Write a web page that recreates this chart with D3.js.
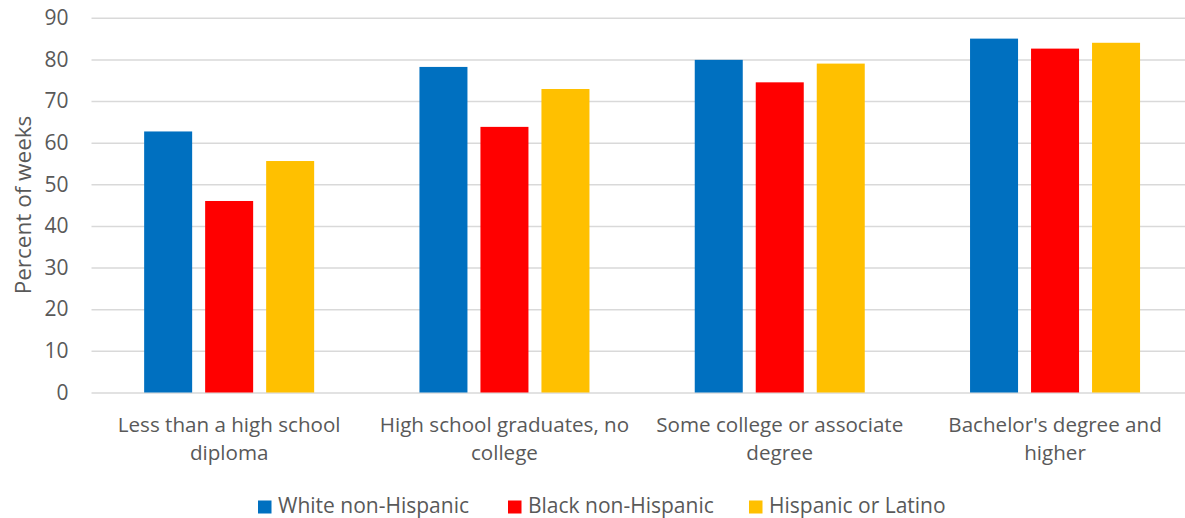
<!DOCTYPE html>
<html>
<head>
<meta charset="utf-8">
<script src="https://cdn.jsdelivr.net/npm/d3@7"></script>
<style>
  html, body { margin: 0; padding: 0; background: #fff; }
  svg { display: block; }
  text { font-family: "Open Sans", sans-serif; fill: #595959; }
</style>
</head>
<body>
<svg id="chart" width="1185" height="518"></svg>
<script>
const categories = [
  "Less than a high school diploma",
  "High school graduates, no college",
  "Some college or associate degree",
  "Bachelor's degree and higher"
];
const categoryLines = [
  ["Less than a high school", "diploma"],
  ["High school graduates, no", "college"],
  ["Some college or associate", "degree"],
  ["Bachelor's degree and", "higher"]
];
const seriesNames = ["White non-Hispanic", "Black non-Hispanic", "Hispanic or Latino"];
const whiteValues = [62.7, 78.2, 79.9, 85.0];
const blackValues = [46.0, 63.8, 74.5, 82.6];
const hispanicValues = [55.6, 72.9, 79.0, 84.0];
const yTicks = [0, 10, 20, 30, 40, 50, 60, 70, 80, 90];
const colors = ["#0070C0", "#FF0000", "#FFC000"];

const seriesValues = [whiteValues, blackValues, hispanicValues];
const data = categories.map((c, i) => ({
  category: c,
  values: seriesNames.map((s, j) => ({ series: s, value: seriesValues[j][i] }))
}));

const svg = d3.select("#chart");
const plotLeft = 91.5, plotRight = 1192.7, plotTop = 17.8, plotBottom = 392.5;

const x0 = d3.scaleBand().domain(categories).range([plotLeft, plotRight]).padding(0);
const x1 = d3.scaleBand().domain(seriesNames).range([0, x0.bandwidth()])
  .paddingInner(0.213).paddingOuter(0.863);
const y = d3.scaleLinear().domain([0, 90]).range([plotBottom, plotTop]);
const color = d3.scaleOrdinal().domain(seriesNames).range(colors);

// gridlines + y axis labels
const yAxis = d3.axisLeft(y).tickValues(yTicks).tickSize(-(1185 - plotLeft)).tickPadding(23);
const gy = svg.append("g").attr("transform", `translate(${plotLeft},0)`).call(yAxis);
gy.select(".domain").remove();
gy.selectAll(".tick line").attr("stroke", "#d9d9d9").attr("stroke-width", 1.5);
gy.selectAll(".tick text").style("font-size", "21px").attr("fill", "#595959")
  .style("font-family", "'Open Sans', sans-serif");

// bars
const groups = svg.append("g").selectAll("g").data(data).join("g")
  .attr("transform", d => `translate(${x0(d.category)},0)`);
groups.selectAll("rect").data(d => d.values).join("rect")
  .attr("x", d => x1(d.series))
  .attr("width", x1.bandwidth())
  .attr("y", d => y(d.value))
  .attr("height", d => y(0) - y(d.value))
  .attr("fill", d => color(d.series));

// x axis labels
const xl = svg.append("g");
categories.forEach((c, i) => {
  const cx = x0(c) + x0.bandwidth() / 2;
  const t = xl.append("text")
    .attr("x", cx)
    .attr("y", 431.5)
    .attr("text-anchor", "middle")
    .style("font-size", "20.6px");
  categoryLines[i].forEach((line, k) => {
    t.append("tspan").attr("x", cx).attr("dy", k === 0 ? 0 : 28).text(line);
  });
});

// y axis title
svg.append("text")
  .attr("transform", `translate(31,205) rotate(-90)`)
  .attr("text-anchor", "middle")
  .style("font-size", "22.5px")
  .text("Percent of weeks");

// legend
const legendX = [258, 508, 749];
const lg = svg.append("g");
seriesNames.forEach((s, i) => {
  lg.append("rect").attr("x", legendX[i]).attr("y", 500.5).attr("width", 13.5).attr("height", 13)
    .attr("fill", color(s));
  lg.append("text").attr("x", legendX[i] + 20).attr("y", 513)
    .style("font-size", "21px").text(s);
});
</script>
</body>
</html>
